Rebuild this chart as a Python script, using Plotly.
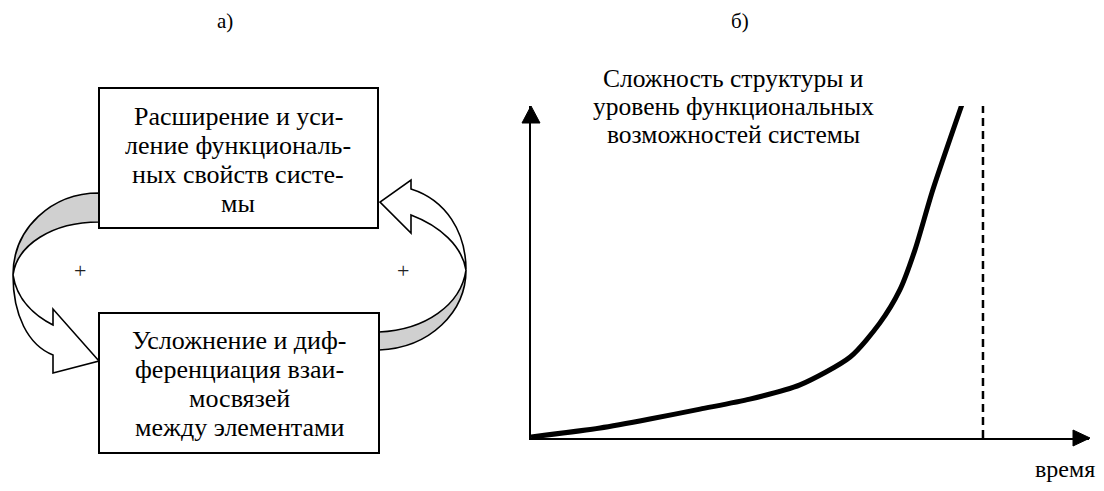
import plotly.graph_objects as go

# ---- data ----
time_pts = [0, 12.4, 21.3, 30.3, 39.2, 48.2, 57.2, 62.5, 66.1, 68.8, 72.0, 77.2]
level_pts = [0.3, 3.0, 5.7, 8.7, 11.7, 16.0, 24.4, 34.6, 44.6, 56.6, 74.7, 100.3]
limit_time = [81.0, 81.0]
limit_level = [0, 100]

panel_labels = ["а)", "б)"]
top_box_lines = ["Расширение и уси-", "ление функциональ-", "ных свойств систе-", "мы"]
bottom_box_lines = ["Усложнение и диф-", "ференциация взаи-", "мосвязей", "между элементами"]
y_title_lines = ["Сложность структуры и", "уровень функциональных", "возможностей системы"]
x_title = "время"
loop_signs = ["+", "+"]

# page has an 8px body margin: figure is placed at (8, 8)
OFF = 8
W, H = 1104 - 2 * OFF, 491 - 2 * OFF
FONT = "Liberation Serif"

fig = go.Figure()

# growth curve
fig.add_trace(go.Scatter(
    x=time_pts, y=level_pts, mode="lines", xaxis="x2", yaxis="y2",
    line=dict(color="black", width=5, shape="spline", smoothing=0.7),
    cliponaxis=False, hoverinfo="skip", showlegend=False))
# limit (dashed)
fig.add_trace(go.Scatter(
    x=limit_time, y=limit_level, mode="lines", xaxis="x2", yaxis="y2",
    line=dict(color="black", width=2.5, dash="8px,5px"),
    cliponaxis=False, hoverinfo="skip", showlegend=False))

shapes = []
BL = dict(color="black", width=1.6)
# left loop arrow: back (gray) band
shapes.append(dict(type="path", xref="x", yref="y",
                   path="M 99,193 C 52,193 13,228 13,275 C 17,245 52,222 99,222 Z",
                   fillcolor="#d0d0d0", line=BL))
# left loop arrow: front band + head
shapes.append(dict(type="path", xref="x", yref="y",
                   path="M 13,275 C 13,315 28,345 53,355 L 53,373 L 99,361 L 53,309 L 53,325 "
                        "C 35,316 17,300 13,275 Z",
                   fillcolor="white", line=BL))
# right loop arrow: back (gray) band
shapes.append(dict(type="path", xref="x", yref="y",
                   path="M 379,332 C 425,330 461,305 466,270 C 466,312 430,348 379,350 Z",
                   fillcolor="#d0d0d0", line=BL))
# right loop arrow: front band + head
shapes.append(dict(type="path", xref="x", yref="y",
                   path="M 466,270 C 466,232 446,200 411,189 L 411,180 L 380,202 L 411,233 L 411,215 "
                        "C 440,226 462,246 466,270 Z",
                   fillcolor="white", line=BL))
# boxes
shapes.append(dict(type="rect", xref="x", yref="y", x0=99, y0=88, x1=378, y1=228,
                   line=dict(color="black", width=2), fillcolor="white"))
shapes.append(dict(type="rect", xref="x", yref="y", x0=99, y0=313, x1=379, y1=453,
                   line=dict(color="black", width=2), fillcolor="white"))
# axis arrowheads
shapes.append(dict(type="path", xref="x", yref="y", path="M 522,123 L 531,106 L 540,123 Z",
                   fillcolor="black", line=dict(color="black", width=1)))
shapes.append(dict(type="path", xref="x", yref="y", path="M 1073,430 L 1090,438 L 1073,446 Z",
                   fillcolor="black", line=dict(color="black", width=1)))

ann = []
def txt(x, y, s, size=26, color="black", xanchor="center", yanchor="middle"):
    ann.append(dict(x=x, y=y, xref="x", yref="y", text=s, showarrow=False,
                    font=dict(family=FONT, size=size, color=color),
                    xanchor=xanchor, yanchor=yanchor, borderpad=0))

txt(225, OFF, panel_labels[0], size=21, yanchor="top")
txt(740, OFF, panel_labels[1], size=21, yanchor="top")
for i, s in enumerate(top_box_lines):
    txt(238, 116 + 29 * i, s)
for i, s in enumerate(bottom_box_lines):
    txt(239, 340 + 29 * i, s)
for i, s in enumerate(y_title_lines):
    txt(733, 78 + 28 * i, s, size=25.5)
txt(OFF + W, OFF + H, x_title, size=24, xanchor="right", yanchor="bottom")
txt(80, 270, loop_signs[0], size=22, color="#222")
txt(403, 270, loop_signs[1], size=22, color="#222")

fig.update_layout(
    width=W, height=H, margin=dict(l=0, r=0, t=0, b=0),
    paper_bgcolor="white", plot_bgcolor="rgba(0,0,0,0)",
    xaxis=dict(range=[OFF, OFF + W], domain=[0, 1], visible=False, fixedrange=True),
    yaxis=dict(range=[OFF + H, OFF], domain=[0, 1], visible=False, fixedrange=True),
    xaxis2=dict(domain=[(531 - OFF) / W, (1089 - OFF) / W], range=[0, 100], anchor="y2",
                showline=True, linecolor="black", linewidth=2, showgrid=False,
                zeroline=False, showticklabels=False, ticks="", fixedrange=True),
    yaxis2=dict(domain=[(OFF + H - 438) / H, (OFF + H - 106) / H], range=[0, 100], anchor="x2",
                showline=True, linecolor="black", linewidth=2, showgrid=False,
                zeroline=False, showticklabels=False, ticks="", fixedrange=True),
    shapes=shapes, annotations=ann, showlegend=False,
)

fig.write_html("out.html")
